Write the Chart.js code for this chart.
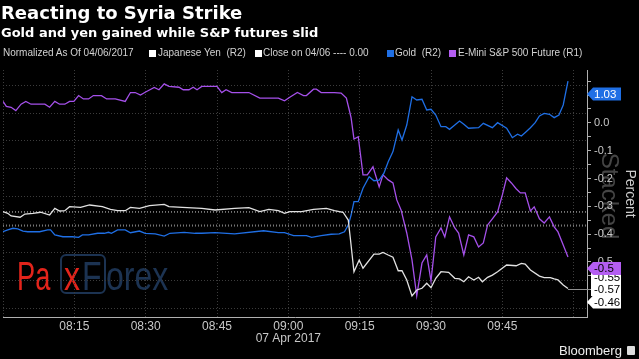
<!DOCTYPE html>
<html><head><meta charset="utf-8">
<script src="https://cdn.jsdelivr.net/npm/chart.js@4/dist/chart.umd.min.js"></script>
<style>
html,body{margin:0;padding:0;background:#000;}
#wrap{position:relative;width:639px;height:359px;overflow:hidden;background:#000;font-family:"Liberation Sans",Arial,sans-serif;}
#c{position:absolute;left:0;top:0;}
.t{position:absolute;white-space:nowrap;color:#fff;}
.lg{position:absolute;white-space:nowrap;color:#d2d2d2;font-size:10px;line-height:12px;top:47px;}
.sq{position:absolute;width:7px;height:7px;top:50px;}
</style></head><body>
<div id="wrap">
<canvas id="c" width="639" height="359"></canvas>
<div class="t" style="left:1px;top:2px;font-family:'DejaVu Sans';font-weight:bold;font-size:18px;line-height:22px;">Reacting to Syria Strike</div>
<div class="t" style="left:1px;top:24px;font-family:'DejaVu Sans';font-weight:bold;font-size:13px;line-height:17px;">Gold and yen gained while S&amp;P futures slid</div>
<div class="lg" style="left:3px;">Normalized As Of 04/06/2017</div>
<div class="sq" style="left:149px;background:#fff;"></div>
<div class="lg" style="left:158px;">Japanese Yen&nbsp; (R2)</div>
<div class="sq" style="left:255px;background:#fff;"></div>
<div class="lg" style="left:263px;">Close on 04/06 ---- 0.00</div>
<div class="sq" style="left:387px;background:#1f6fe5;"></div>
<div class="lg" style="left:395px;">Gold&nbsp; (R2)</div>
<div class="sq" style="left:449px;background:#b45ef2;"></div>
<div class="lg" style="left:458px;">E-Mini S&amp;P 500 Future (R1)</div>
<div class="t" style="left:559px;top:343px;font-size:13px;line-height:16px;color:#eee;">Bloomberg</div>
<div style="position:absolute;left:627px;top:346px;width:8px;height:9px;background:#ddd;border-radius:1px;"></div>
</div>
<script>
// ---- data (minutes after 08:00 on 07 Apr 2017, % change normalized to 04/06 close) ----
const spxTime = [0,0.7,1.7,2.7,3.8,4.8,5.9,8.8,9.8,10.9,11.9,13.0,14.0,14.9,15.9,16.9,18.0,19.0,20.7,21.8,23.6,25.7,26.8,27.8,28.9,29.9,31.8,32.8,33.9,34.9,37.0,37.9,39.1,40.0,40.8,41.8,45.0,46.0,46.9,48.1,51.7,54.0,57.9,59.2,60.3,61.9,63.2,63.8,65.3,65.9,66.9,69.7,71.1,72.2,72.8,73.2,73.8,74.7,75.7,76.6,77.8,79.1,79.9,81.0,82.0,82.8,83.7,84.9,86.0,87.0,88.1,89.1,90.0,91.0,92.1,92.9,93.9,95.0,95.8,96.9,97.9,99.0,100.0,101.0,101.9,102.9,104.0,105.0,105.9,106.9,107.9,108.8,109.8,110.9,111.7,112.8,113.8,114.9,115.9,116.7,117.8,118.8];
const spxPct = [0.077,0.059,0.056,0.044,0.067,0.077,0.067,0.067,0.056,0.077,0.067,0.067,0.077,0.077,0.098,0.086,0.086,0.098,0.098,0.086,0.086,0.077,0.109,0.109,0.100,0.110,0.127,0.119,0.140,0.131,0.128,0.119,0.119,0.128,0.119,0.131,0.131,0.109,0.119,0.109,0.109,0.089,0.089,0.079,0.092,0.109,0.098,0.098,0.121,0.121,0.109,0.109,0.107,0.089,0.047,0.018,-0.058,-0.050,-0.187,-0.187,-0.158,-0.230,-0.187,-0.205,-0.216,-0.277,-0.313,-0.396,-0.493,-0.622,-0.504,-0.475,-0.568,-0.410,-0.378,-0.410,-0.338,-0.378,-0.396,-0.475,-0.403,-0.410,-0.446,-0.432,-0.367,-0.345,-0.320,-0.259,-0.198,-0.216,-0.237,-0.252,-0.252,-0.317,-0.302,-0.345,-0.360,-0.338,-0.374,-0.392,-0.439,-0.482];

const goldTime = [0,1.0,2.1,3.1,4.2,5.2,7.7,9.4,10.0,10.9,12.6,14.6,15.9,16.7,18.0,19.9,21.3,22.2,22.8,24.1,25.7,26.8,28.7,29.9,32.0,33.9,35.1,38.1,40.4,41.8,44.6,48.7,54.8,57.9,59.2,61.1,63.8,64.9,66.9,69.0,70.7,71.8,72.6,73.2,73.8,74.7,75.7,77.0,78.0,79.1,80.1,81.0,82.0,83.1,83.9,84.9,86.0,87.0,88.1,89.1,90.0,91.0,92.1,93.1,93.9,95.0,96.0,96.9,97.9,100.0,101.0,102.9,104.0,105.9,107.1,108.2,109.0,110.0,110.9,111.9,112.8,113.8,114.9,115.9,116.9,117.8,118.8];
const goldPct = [-0.052,-0.039,-0.027,-0.032,-0.047,-0.052,-0.052,-0.039,-0.039,-0.075,-0.088,-0.088,-0.092,-0.075,-0.075,-0.063,-0.063,-0.056,-0.063,-0.039,-0.039,-0.059,-0.047,-0.063,-0.068,-0.083,-0.063,-0.056,-0.063,-0.063,-0.059,-0.068,-0.045,-0.059,-0.059,-0.080,-0.080,-0.092,-0.080,-0.070,-0.068,-0.052,-0.004,0.068,0.164,0.164,0.260,0.343,0.314,0.319,0.368,0.451,0.523,0.678,0.607,0.714,0.917,0.894,0.899,0.822,0.827,0.786,0.702,0.702,0.683,0.714,0.743,0.719,0.691,0.695,0.726,0.695,0.731,0.691,0.623,0.648,0.635,0.666,0.695,0.731,0.779,0.798,0.791,0.767,0.786,0.858,1.03];

const yenTime = [0,1.0,1.7,3.6,4.6,6.3,7.9,9.8,10.9,11.9,13.0,14.0,16.3,18.2,20.9,22.6,24.1,25.7,26.8,28.7,30.8,33.9,34.9,37.7,41.8,44.6,48.7,51.7,54.0,55.9,57.9,59.2,60.3,62.8,65.3,68.0,69.7,71.5,72.6,73.0,73.8,74.9,75.7,78.0,79.1,79.9,81.0,82.0,83.1,83.9,84.9,86.0,87.0,88.1,89.1,90.0,91.0,92.1,93.7,95.0,96.0,96.9,97.9,99.0,100.0,100.8,101.9,102.9,104.0,105.9,107.9,109.0,109.8,110.9,112.8,113.8,115.1,115.9,116.7,117.8,118.8];
const yenPct = [0.092,0.080,0.061,0.052,0.075,0.080,0.088,0.068,0.116,0.097,0.099,0.128,0.123,0.140,0.128,0.109,0.099,0.099,0.123,0.116,0.135,0.145,0.128,0.123,0.116,0.104,0.116,0.121,0.092,0.109,0.099,0.080,0.092,0.092,0.109,0.116,0.099,0.088,0.032,-0.088,-0.339,-0.255,-0.314,-0.212,-0.212,-0.200,-0.219,-0.235,-0.332,-0.332,-0.398,-0.513,-0.470,-0.458,-0.422,-0.454,-0.386,-0.339,-0.343,-0.386,-0.391,-0.411,-0.375,-0.398,-0.379,-0.411,-0.379,-0.363,-0.339,-0.291,-0.296,-0.279,-0.284,-0.327,-0.370,-0.382,-0.382,-0.391,-0.398,-0.434,-0.46];

const closeLevels = [0.09, -0.01];          // dotted "Close on 04/06" reference lines (R2)
const xGridMinutes = [0,15,30,45,60,75,90,105,120];
const xTickLabels  = ['','08:15','08:30','08:45','09:00','09:15','09:30','09:45',''];
const dateLabel = '07 Apr 2017';
const r1Ticks = [-0.65,-0.6,-0.55,-0.5,-0.45,-0.4,-0.35,-0.3,-0.25,-0.2,-0.15,-0.1,-0.05,0,0.05,0.1,0.15];
const r2Grid = [-0.6,-0.4,-0.2,0,0.2,0.4,0.6,0.8,1.0];
const tagTexts = {gold:'1.03', spx:'-0.5', close:'-0.55', yenA:'-0.57', yenB:'-0.46'};

const pts = (t,v)=>t.map((x,i)=>({x:x,y:v[i]}));
const X_MAX = 122.8;

const overlay = {
  id:'overlay',
  beforeDraw(c){
    const ctx=c.ctx; ctx.save();
    ctx.fillStyle='#000'; ctx.fillRect(0,0,c.width,c.height);
    ctx.translate(609,196); ctx.rotate(Math.PI/2);
    ctx.font='24px "Liberation Sans"'; ctx.fillStyle='#454545';
    ctx.textAlign='center'; ctx.textBaseline='middle';
    ctx.fillText('Stacked',0,0);
    ctx.restore();
    // PaxForex watermark
    ctx.save();
    ctx.textBaseline='alphabetic';
    ctx.font='40px "Liberation Sans"';
    const drawS=(txt,x,col,sx)=>{ctx.save();ctx.translate(x,290);ctx.scale(sx,1);ctx.fillStyle=col;ctx.fillText(txt,0,0);ctx.restore();};
    drawS('Pa',17,'#e3241b',0.68);
    ctx.strokeStyle='#1c3352'; ctx.lineWidth=2;
    ctx.beginPath(); ctx.roundRect(61,255,44,38,5); ctx.stroke();
    drawS('x',64,'#e3241b',0.8);
    drawS('F',82,'#1c3352',0.8);
    drawS('orex',106,'#1c3352',0.8);
    ctx.restore();
  },
  afterDatasetsDraw(c){
    const ctx=c.ctx;
    const meta=c.getDatasetMeta(2);
    const last=meta.data[meta.data.length-1];
    ctx.save(); ctx.strokeStyle='#909090'; ctx.lineWidth=1;
    ctx.beginPath(); ctx.moveTo(last.x,Math.round(last.y)+0.5); ctx.lineTo(c.chartArea.right+3,Math.round(last.y)+0.5); ctx.stroke();
    ctx.restore();
  },
  afterDraw(c){
    const ctx=c.ctx;
    const tag=(yc,txt,fill,tc,arrow)=>{
      const h=13,x0=593,x1=621;
      ctx.save(); ctx.fillStyle=fill; ctx.beginPath();
      if(arrow){ctx.moveTo(587,yc);ctx.lineTo(x0,yc-h/2);} else ctx.moveTo(x0-2,yc-h/2);
      ctx.lineTo(x1,yc-h/2); ctx.lineTo(x1,yc+h/2);
      if(arrow){ctx.lineTo(x0,yc+h/2);} else ctx.lineTo(x0-2,yc+h/2);
      ctx.closePath(); ctx.fill();
      ctx.fillStyle=tc; ctx.font='11.5px "Liberation Sans"'; ctx.textAlign='left'; ctx.textBaseline='middle';
      ctx.fillText(txt,594,yc+0.5); ctx.restore();
    };
    tag(94,tagTexts.gold,'#1f6fe5','#fff',true);
    tag(277,tagTexts.close,'#fff','#000',false);
    tag(289.5,tagTexts.yenA,'#fff','#000',false);
    tag(302,tagTexts.yenB,'#fff','#000',true);
    tag(268.5,tagTexts.spx,'#b45ef2','#000',true);
  }
};

const dsBase = {pointRadius:0, borderWidth:1.3, tension:0, fill:false};
new Chart(document.getElementById('c'), {
  type:'line',
  data:{datasets:[
    Object.assign({}, dsBase, {label:'close a', data:[{x:0,y:closeLevels[0]},{x:X_MAX,y:closeLevels[0]}], yAxisID:'r2', borderColor:'#d8d8d8', borderWidth:1, borderDash:[1,2]}),
    Object.assign({}, dsBase, {label:'close b', data:[{x:0,y:closeLevels[1]},{x:X_MAX,y:closeLevels[1]}], yAxisID:'r2', borderColor:'#bdbdbd', borderWidth:1, borderDash:[1,2]}),
    Object.assign({}, dsBase, {label:'Japanese Yen (R2)', data:pts(yenTime,yenPct), yAxisID:'r2', borderColor:'#e2e2e2'}),
    Object.assign({}, dsBase, {label:'Gold (R2)', data:pts(goldTime,goldPct), yAxisID:'r2', borderColor:'#1f6fe5'}),
    Object.assign({}, dsBase, {label:'E-Mini S&P 500 Future (R1)', data:pts(spxTime,spxPct), yAxisID:'r1', borderColor:'#a550ea'})
  ]},
  options:{
    responsive:false, animation:false, devicePixelRatio:1,
    layout:{padding:{top:70,left:0,right:0,bottom:0}},
    plugins:{legend:{display:false}, tooltip:{enabled:false}, title:{display:false}},
    scales:{
      x:{type:'linear', min:0, max:X_MAX,
        afterFit(s){ s.height=42; },
        afterBuildTicks(s){ s.ticks = xGridMinutes.map(v=>({value:v})); },
        ticks:{autoSkip:false, maxRotation:0, color:'#c8c8c8', font:{family:'Liberation Sans', size:12, lineHeight:1.05}, padding:3,
          callback(v){ const i=xGridMinutes.indexOf(v); if(i<0) return ''; return v===60 ? [xTickLabels[i], dateLabel] : xTickLabels[i]; }},
        grid:{color:'#3c3c3c', lineWidth:1, drawTicks:false},
        border:{display:true, color:'#b0b0b0', width:1, dash:[1,2]}
      },
      r2:{type:'linear', position:'right', min:-0.664, max:1.109,
        afterFit(s){ s.width=0; },
        afterBuildTicks(s){ s.ticks = r2Grid.map(v=>({value:v})); },
        ticks:{display:false},
        grid:{color:'#3c3c3c', lineWidth:1, drawTicks:false},
        border:{display:false, dash:[1,2]}
      },
      r1:{type:'linear', position:'right', min:-0.698, max:0.19,
        afterFit(s){ s.width=52; },
        afterBuildTicks(s){ s.ticks = r1Ticks.map(v=>({value:v})); },
        ticks:{autoSkip:false, color:'#c8c8c8', font:{family:'Liberation Sans', size:11}, padding:3,
          callback(v){ const k=Math.round(v*100); return (k%10===0) ? (k/100).toFixed(1) : ''; }},
        grid:{drawOnChartArea:false, drawTicks:true, tickLength:4, color:'#b0b0b0'},
        border:{display:true, color:'#b0b0b0', width:1},
        title:{display:true, text:'Percent', color:'#cccccc', font:{family:'Liberation Sans', size:14}, padding:{top:1,bottom:0}}
      }
    }
  },
  plugins:[overlay]
});
</script>
</body></html>
